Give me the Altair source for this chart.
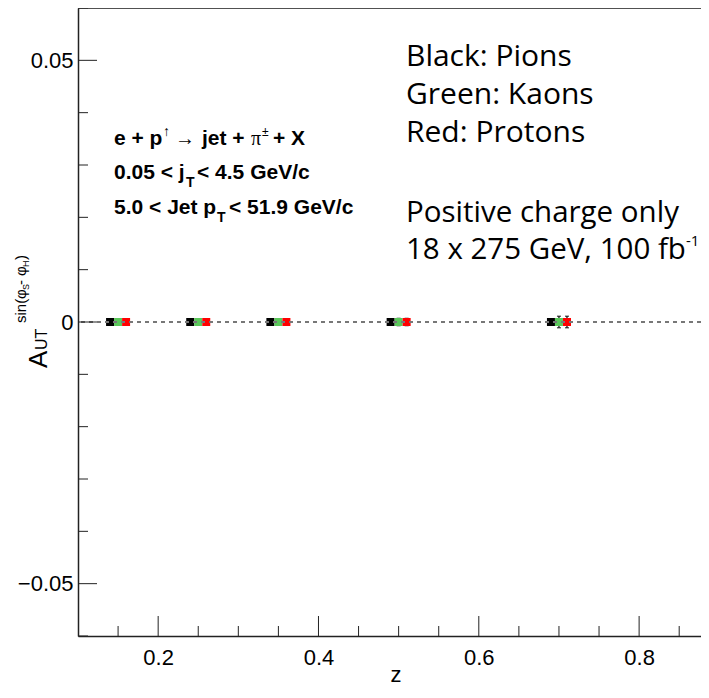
import altair as alt
import pandas as pd

# ---- data ----
z_bins = [0.15, 0.25, 0.35, 0.50, 0.70]
offsets = {"Pions": -0.01, "Kaons": 0.0, "Protons": 0.01}
asym_pions = [0.0, 0.0, 0.0, 0.0, 0.0]
asym_kaons = [0.0, 0.0, 0.0, 0.0, 0.0]
asym_protons = [0.0, 0.0, 0.0, 0.0, 0.0]
err_pions = [0.0002, 0.0002, 0.0003, 0.0004, 0.0006]
err_kaons = [0.0003, 0.0004, 0.0005, 0.0007, 0.0011]
err_protons = [0.0003, 0.0004, 0.0005, 0.0007, 0.0011]

species = ["Pions", "Kaons", "Protons"]
colors = ["#000000", "#5bc85b", "#ff0000"]

x_major = [0.2, 0.4, 0.6, 0.8]
x_minor = [0.15, 0.25, 0.3, 0.35, 0.45, 0.5, 0.55, 0.65, 0.7, 0.75, 0.85]
y_major = [-0.05, 0.0, 0.05]
y_minor = [-0.06, -0.04, -0.03, -0.02, -0.01, 0.01, 0.02, 0.03, 0.04, 0.06]

right_lines = ["Black: Pions", "Green: Kaons", "Red: Protons",
               "Positive charge only", "18 x 275 GeV, 100 fb"]
lumi_sup = "-1"

W, H = 623, 628
XMIN = 0.1
XMAX = 0.1 + W / 801.6
YMIN, YMAX = -0.06, 0.06

rows = []
for name, vals, errs in [("Pions", asym_pions, err_pions),
                         ("Kaons", asym_kaons, err_kaons),
                         ("Protons", asym_protons, err_protons)]:
    for zb, v, e in zip(z_bins, vals, errs):
        rows.append({"species": name, "z": zb + offsets[name], "A": v, "err": e})
df = pd.DataFrame(rows)

xs = alt.Scale(domain=[XMIN, XMAX], nice=False, zero=False)
ys = alt.Scale(domain=[YMIN, YMAX], nice=False, zero=False)

AX = alt.Axis(values=x_major, ticks=False, grid=False, labelFontSize=22,
              labelFont="Liberation Sans", labelColor="#000", labelPadding=11,
              domainColor="#222", domainWidth=1.5, format=".1f", title=None)
AY = alt.Axis(values=y_major, ticks=False, grid=False, labelFontSize=22,
              labelFont="Liberation Sans", labelColor="#000", labelPadding=5,
              domainColor="#222", domainWidth=1.5, title=None,
              labelExpr="datum.value == 0 ? '0' : replace(format(datum.value, '.2f'), '-', '\u2212')")

def X(f):
    return alt.X(f, scale=xs, axis=AX, title=None)

def Y(f):
    return alt.Y(f, scale=ys, axis=AY, title=None)

base = alt.Chart(df).transform_calculate(lo="datum.A - datum.err", hi="datum.A + datum.err")

points = alt.Chart(df).mark_point(shape="square", filled=True, size=64, opacity=1, strokeWidth=0).encode(
    x=X("z:Q"), y=Y("A:Q"),
    color=alt.Color("species:N", scale=alt.Scale(domain=species, range=colors), legend=None),
)

ebar = base.mark_rule(color="#000", strokeWidth=1.2).encode(x=X("z:Q"), y=Y("lo:Q"), y2="hi:Q")
cap_lo = base.mark_tick(color="#000", orient="horizontal", size=4, thickness=1.3).encode(
    x=X("z:Q"), y=Y("lo:Q"))
cap_hi = base.mark_tick(color="#000", orient="horizontal", size=4, thickness=1.3).encode(
    x=X("z:Q"), y=Y("hi:Q"))

zero_line = alt.Chart(pd.DataFrame({"v": [0.0]})).mark_rule(
    color="#777777", strokeDash=[4, 4], strokeWidth=2).encode(y=Y("v:Q"))
top_line = alt.Chart(pd.DataFrame({"v": [YMAX]})).mark_rule(
    color="#222", strokeWidth=1.5).encode(y=Y("v:Q"))

def xticks(vals, length):
    return alt.Chart(pd.DataFrame({"v": vals})).mark_rule(color="#222", strokeWidth=1).encode(
        x=X("v:Q"), y=alt.value(H), y2=alt.value(H - length))

def yticks(vals, length):
    return alt.Chart(pd.DataFrame({"v": vals})).mark_rule(color="#222", strokeWidth=1).encode(
        y=Y("v:Q"), x=alt.value(0), x2=alt.value(length))

one = pd.DataFrame({"a": [0]})

def txt(s, x, y, size, font="Liberation Sans", weight="normal", angle=0, align="left"):
    return alt.Chart(one).mark_text(text=s, font=font, fontSize=size, fontWeight=weight,
                                    angle=angle, align=align, baseline="alphabetic",
                                    color="#000").encode(x=alt.value(x), y=alt.value(y))

texts = []
# right annotation
for s, yy, fs in zip(right_lines, [58, 96, 134, 214, 251], [30, 30, 30, 29.5, 29.5]):
    texts.append(txt(s, 328, yy, fs, font="Open Sans"))
texts.append(txt(lumi_sup, 608, 238, 15, font="Open Sans"))

# left bold annotation
B = "bold"
L1, L2, L3 = 137, 171, 206
texts += [
    txt("e + p", 36, L1, 21, weight=B),
    txt("\u2191", 85, L1 - 9, 14),
    txt("\u2192", 97, L1, 20),
    txt("jet +", 124, L1, 21, weight=B),
    txt("\u03c0", 173, L1, 20, font="Liberation Serif"),
    txt("\u00b1", 184, L1 - 9, 12),
    txt("+ X", 195, L1, 21, weight=B),
    txt("0.05 < j", 36, L2, 21, weight=B),
    txt("T", 108, L2 + 8, 14, weight=B),
    txt("< 4.5 GeV/c", 119, L2, 21, weight=B),
    txt("5.0 < Jet p", 36, L3, 21, weight=B),
    txt("T", 139, L3 + 8, 14, weight=B),
    txt("< 51.9 GeV/c", 151, L3, 21, weight=B),
]

# y-axis title  A_UT^{sin(phi_S - phi_H)}
texts += [
    txt("A", -31, 360, 26, angle=270),
    txt("UT", -31, 342, 16, angle=270),
    txt("sin(", -52, 315, 15, angle=270),
    txt("\u03c6", -52, 291, 15, angle=270),
    txt("S", -49, 282, 9, angle=270),
    txt("-", -52, 277, 15, angle=270),
    txt("\u03c6", -52, 268, 15, angle=270),
    txt("H", -49, 259, 9, angle=270),
    txt(")", -52, 252, 15, angle=270),
]
# x-axis title
texts.append(txt("z", 318, 674, 22, align="center"))

chart = alt.layer(
    ebar, cap_lo, cap_hi, points, zero_line, top_line,
    xticks(x_major, 20), xticks(x_minor, 10),
    yticks(y_major, 19), yticks(y_minor, 10),
    *texts,
).properties(
    width=W, height=H,
    padding={"left": 70, "top": 0, "right": 0, "bottom": 52},
    autosize=alt.AutoSizeParams(type="none"),
).configure_view(stroke=None).configure(background="white")

chart.save("out.html", embed_options={"renderer": "svg", "actions": False})
